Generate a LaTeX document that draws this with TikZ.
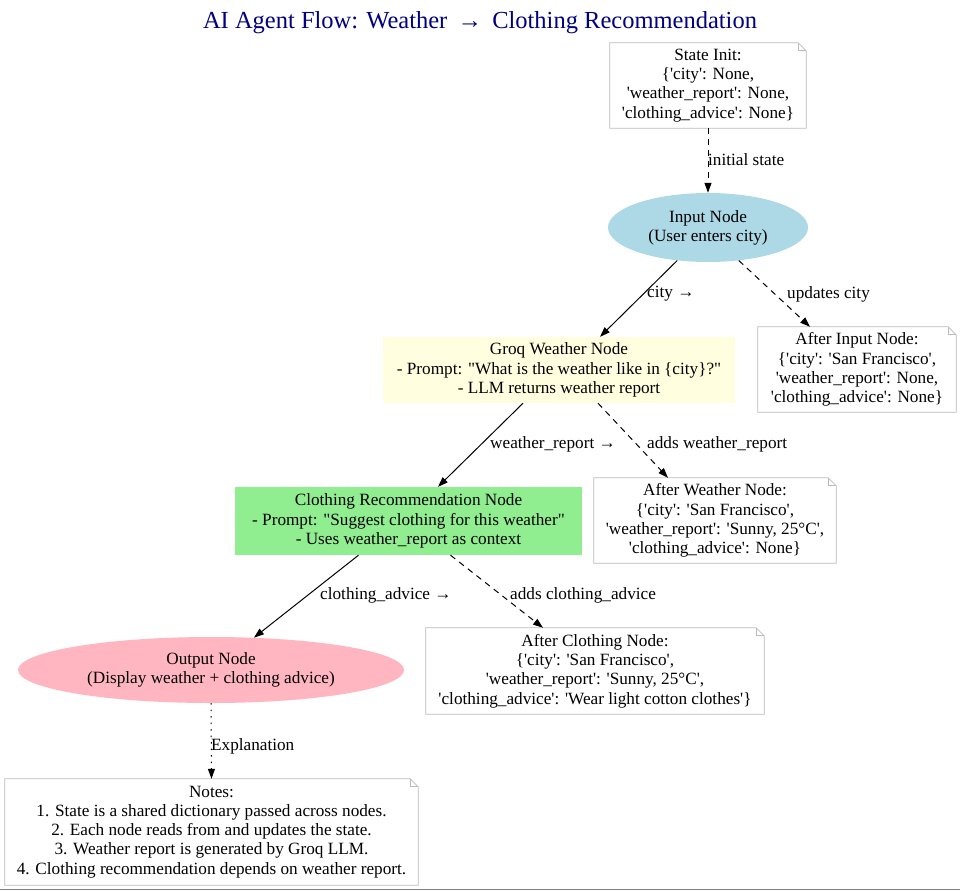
\documentclass[tikz,border=0pt]{standalone}
\usepackage{fontspec}
\newfontfamily\lib{Liberation Serif}
\usetikzlibrary{arrows.meta,shapes.geometric}
\definecolor{lblue}{HTML}{ADD8E6}
\definecolor{lyellow}{HTML}{FFFFE0}
\definecolor{lgreen}{HTML}{90EE90}
\definecolor{lpink}{HTML}{FFB6C1}
\definecolor{notegray}{HTML}{BBBBBB}
\definecolor{titleblue}{HTML}{000080}
\newcommand\notedraw[1]{%
  \draw[noteline] (#1.south west) -- (#1.north west) -- ([xshift=-8pt]#1.north east) -- ([yshift=-8pt]#1.north east) -- (#1.south east) -- cycle;
  \draw[noteline] ([xshift=-8pt]#1.north east) -- ([xshift=-8pt,yshift=-8pt]#1.north east) -- ([yshift=-8pt]#1.north east);}
\begin{document}
\begin{tikzpicture}[x=1pt,y=-1pt,
  txt/.style={font=\lib\fontsize{17.2}{19.2}\selectfont, align=center, inner sep=0pt},
  notebox/.style={txt},
  noteline/.style={draw=notegray, line width=0.8pt},
  ellnode/.style={txt, ellipse},
  boxnode/.style={txt, rectangle},
  lbl/.style={txt, anchor=west},
  edge/.style={line width=1pt, -{Triangle[length=10pt,width=7pt]}},
  dashededge/.style={edge, dash pattern=on 6pt off 5pt},
  dottededge/.style={edge, dash pattern=on 1.5pt off 5pt}]
\useasboundingbox (0,0) rectangle (960,891);
\fill[white] (0,0) rectangle (960,891);
\draw[draw=gray, line width=1.5pt] (0,889.5) -- (960,889.5);

\node[font=\lib\fontsize{24.5}{28}\selectfont, text=titleblue, inner sep=0pt] (title) at (480,23) {AI Agent Flow: Weather \,→\, Clothing Recommendation};

\node[notebox, minimum width=196pt, minimum height=85pt] (init) at (708,85.5)
  {State Init:\\\{'city': None,\\'weather\_report': None,\\'clothing\_advice': None\}};
\node[ellnode, fill=lblue, minimum width=200pt, minimum height=69pt] (input) at (708,227.5)
  {Input Node\\(User enters city)};
\node[boxnode, fill=lyellow, minimum width=352pt, minimum height=66pt] (groq) at (559,370)
  {Groq Weather Node\\- Prompt: "What is the weather like in \{city\}?"\\- LLM returns weather report};
\node[notebox, minimum width=198pt, minimum height=85pt] (ainput) at (857,369.5)
  {After Input Node:\\\{'city': 'San Francisco',\\'weather\_report': None,\\'clothing\_advice': None\}};
\node[boxnode, fill=lgreen, minimum width=347pt, minimum height=68pt] (cloth) at (408.5,521)
  {Clothing Recommendation Node\\- Prompt: "Suggest clothing for this weather"\\- Uses weather\_report as context};
\node[notebox, minimum width=242pt, minimum height=85pt] (aweather) at (715,520.5)
  {After Weather Node:\\\{'city': 'San Francisco',\\'weather\_report': 'Sunny, 25°C',\\'clothing\_advice': None\}};
\node[ellnode, fill=lpink, minimum width=386pt, minimum height=66pt] (output) at (211,670)
  {Output Node\\(Display weather + clothing advice)};
\node[notebox, minimum width=338pt, minimum height=86pt] (acloth) at (595,671)
  {After Clothing Node:\\\{'city': 'San Francisco',\\'weather\_report': 'Sunny, 25°C',\\'clothing\_advice': 'Wear light cotton clothes'\}};
\node[notebox, minimum width=413pt, minimum height=106pt] (notes) at (211.5,832)
  {Notes:\\1. State is a shared dictionary passed across nodes.\\2. Each node reads from and updates the state.\\3. Weather report is generated by Groq LLM.\\4. Clothing recommendation depends on weather report.};

\notedraw{init}
\notedraw{ainput}
\notedraw{aweather}
\notedraw{acloth}
\notedraw{notes}

\draw[dashededge] (init.south) -- (input.north);
\node[lbl] (l1) at (708,160) {initial state};
\draw[edge] (input.227) -- ([xshift=41pt]groq.north);
\node[lbl] (l2) at (647,294) {city →};
\draw[dashededge] (input.313) -- ([xshift=-47pt]ainput.north);
\node[lbl] (l3) at (787,294) {updates city};
\draw[edge] ([xshift=-36pt]groq.south) -- ([xshift=29.5pt]cloth.north);
\node[lbl] (l4) at (490,444) {weather\_report →};
\draw[dashededge] ([xshift=39pt]groq.south) -- ([xshift=-47pt]aweather.north);
\node[lbl] (l5) at (647,444) {adds weather\_report};
\draw[edge] ([xshift=-50pt]cloth.south) -- (output.37);
\node[lbl] (l6) at (320,595) {clothing\_advice →};
\draw[dashededge] ([xshift=42pt]cloth.south) -- ([xshift=-52pt]acloth.north);
\node[lbl] (l7) at (510,595) {adds clothing\_advice};
\draw[dottededge] (output.south) -- (notes.north);
\node[lbl] (l8) at (211,746) {Explanation};
\end{tikzpicture}
\end{document}
